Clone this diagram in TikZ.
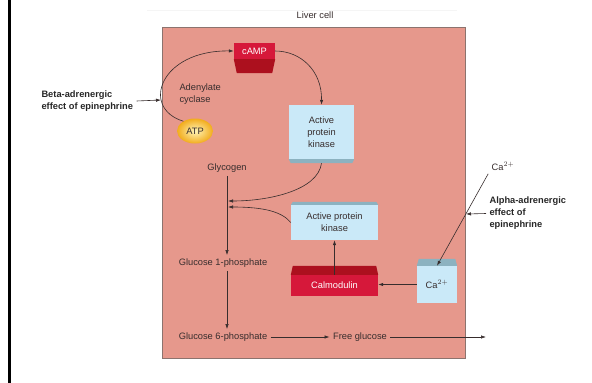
\documentclass[tikz,border=0pt]{standalone}
\usepackage{fontspec}
\setmainfont{Liberation Sans}
\usetikzlibrary{arrows.meta,shapes.geometric}
\definecolor{cellfill}{RGB}{230,152,140}
\definecolor{cellline}{RGB}{140,115,110}
\definecolor{txt}{RGB}{55,45,45}
\definecolor{kfront}{RGB}{202,233,248}
\definecolor{kbevel}{RGB}{140,178,192}
\definecolor{rfront}{RGB}{214,24,58}
\definecolor{rbevel}{RGB}{172,16,30}
\definecolor{atpin}{RGB}{255,245,185}
\definecolor{atpout}{RGB}{242,172,28}

\begin{document}
\begin{tikzpicture}[x=1pt,y=-1pt,font=\fontsize{9.3}{12}\selectfont,
  every node/.style={text=txt},
  arr/.style={draw=txt,line width=0.6pt,-{Latex[length=5pt,width=3.4pt]}},
  kinbox/.style={fill=kfront,inner sep=0pt,align=center},
  redbox/.style={fill=rfront,inner sep=0pt,text=white}]
\useasboundingbox (0,0) rectangle (592,383);
\fill[black] (8,0) rectangle (10.5,383);
\draw[black!4,line width=0.8pt] (147,10) -- (457,10);
\node (0) at (315,15) {Liver cell};
\filldraw[fill=cellfill,draw=cellline,line width=0.7pt] (162,27) rectangle (465,358);
% boxes
\node[redbox,minimum width=41pt,minimum height=16pt] (camp) at (254.5,51) {cAMP};
\fill[rbevel] (camp.south west) -- (camp.south east) -- ([xshift=-3pt,yshift=-14pt]camp.south east) -- ([xshift=3pt,yshift=-14pt]camp.south west) -- cycle;
\node[kinbox,minimum width=65pt,minimum height=54pt] (k1) at (321.5,132) {Active\\protein\\kinase};
\fill[kbevel] (k1.south west) -- (k1.south east) -- ([xshift=-2pt,yshift=-4pt]k1.south east) -- ([xshift=2pt,yshift=-4pt]k1.south west) -- cycle;
\node[kinbox,minimum width=87pt,minimum height=35pt] (k2) at (334.5,222.5) {Active protein\\kinase};
\fill[kbevel] (k2.north west) -- (k2.north east) -- ([xshift=-2pt,yshift=3pt]k2.north east) -- ([xshift=2pt,yshift=3pt]k2.north west) -- cycle;
\node[redbox,minimum width=87pt,minimum height=21pt] (cal) at (334.5,285.5) {Calmodulin};
\fill[rbevel] (cal.north west) -- (cal.north east) -- ([xshift=-2pt,yshift=9pt]cal.north east) -- ([xshift=2pt,yshift=9pt]cal.north west) -- cycle;
\node[kinbox,minimum width=40pt,minimum height=37pt] (ca) at (437,284.5) {Ca$^{2+}$};
\fill[kbevel] (ca.north west) -- (ca.north east) -- ([xshift=-2pt,yshift=7pt]ca.north east) -- ([xshift=2pt,yshift=7pt]ca.north west) -- cycle;
\node[ellipse,minimum width=36pt,minimum height=25pt,inner sep=0pt,inner color=atpin,outer color=atpout] (atp) at (195,131) {ATP};
% labels
\node[anchor=west,align=left,font=\fontsize{9.3}{12}\selectfont\bfseries,text=black!85] (beta) at (38,101) {Beta-adrenergic\\effect of epinephrine};
\node[anchor=west,align=left,font=\fontsize{9.3}{12}\selectfont\bfseries,text=black!85] (alpha) at (486,213.5) {Alpha-adrenergic\\effect of\\epinephrine};
\node[anchor=west,align=left] (ac) at (176,94) {Adenylate\\cyclase};
\node (calab) at (503,166) {Ca$^{2+}$};
\node (g) at (227,168) {Glycogen};
\node (g1p) at (223,263) {Glucose 1-phosphate};
\node (g6p) at (223,337) {Glucose 6-phosphate};
\node (fg) at (360,337) {Free glucose};
\coordinate (cw) at (161,100);
\coordinate (ce) at (466,214);
\coordinate (m1) at (228,201);
\coordinate (m2) at (228,207);
\coordinate (out) at (486,337);
% arrows
\draw[arr] (beta.east) -- (cw);
\draw[arr] (alpha.west) -- (ce);
\draw[arr] (atp.140) .. controls (140,108) and (160,50) .. (camp.west);
\draw[arr] (camp.east) .. controls (300,51) and (322,70) .. (k1.north);
\draw[arr] ([yshift=-4pt]k1.south) .. controls (318,190) and (270,201) .. (m1);
\draw[arr] (k2.west) .. controls (282,212) and (265,207) .. (m2);
\draw[arr] (g.south) -- (g.south |- g1p.north);
\draw[arr] (g1p.south -| g.south) -- (g.south |- g6p.north);
\draw[arr] (g6p.east) -- (fg.west);
\draw[arr] (fg.east) -- (out);
\draw[arr] (cal.north) -- (k2.south);
\draw[arr] (ca.west) -- (ca.west -| cal.east);
\draw[arr] (calab.south west) -- (ca.north);
\end{tikzpicture}
\end{document}
